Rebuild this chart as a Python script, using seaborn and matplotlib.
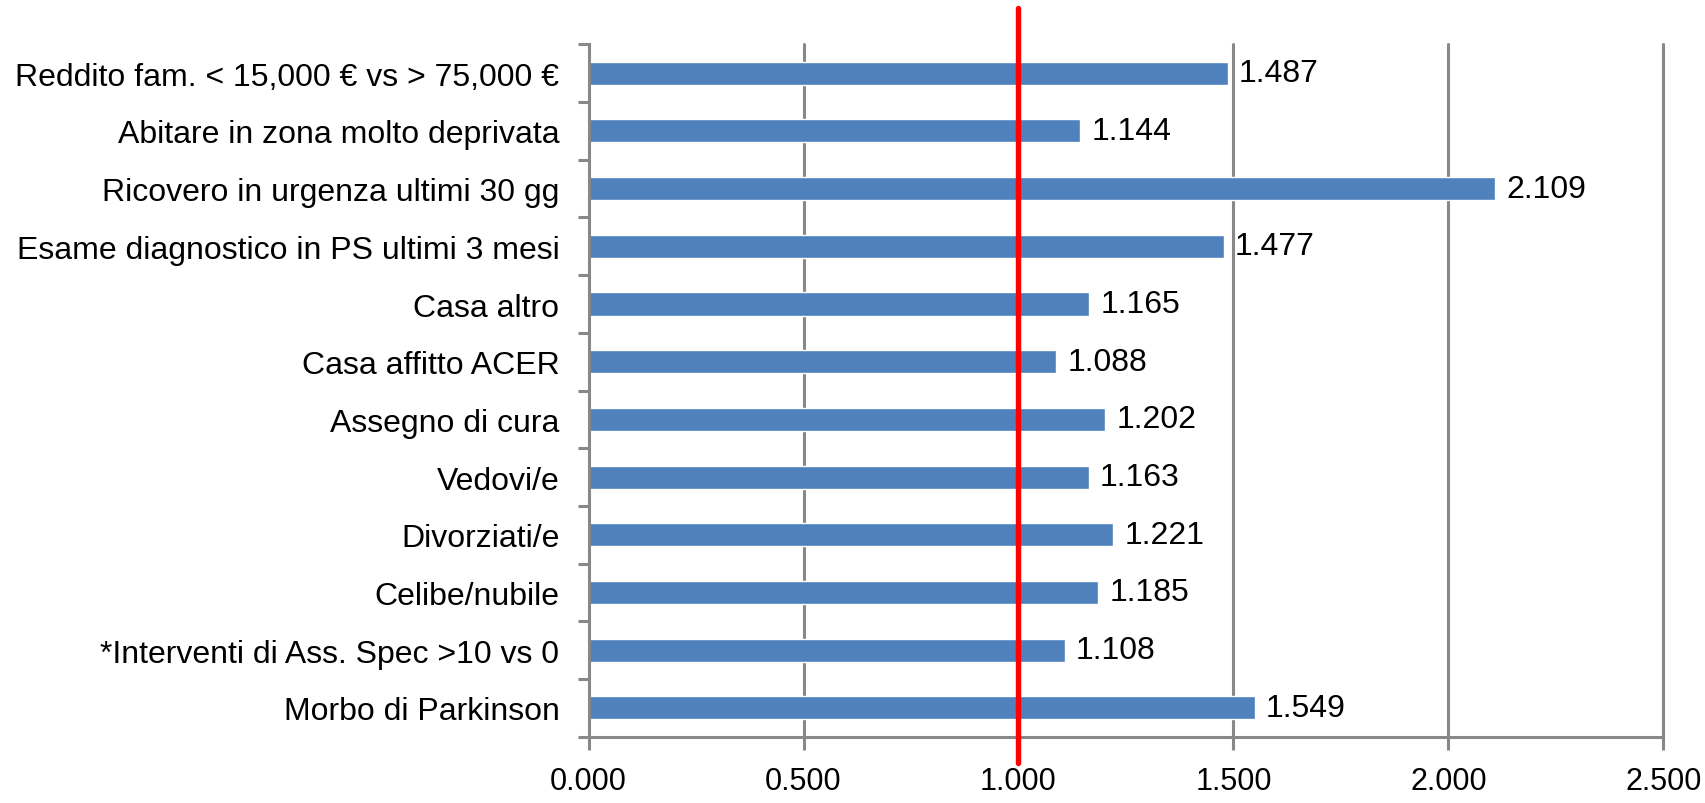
import matplotlib
matplotlib.use("Agg")
import matplotlib.pyplot as plt
import numpy as np
import pandas as pd
import seaborn as sns

categories = [
    "Reddito fam. < 15,000 € vs > 75,000 €",
    "Abitare in zona molto deprivata",
    "Ricovero in urgenza ultimi 30 gg",
    "Esame diagnostico in PS ultimi 3 mesi",
    "Casa altro",
    "Casa affitto ACER",
    "Assegno di cura",
    "Vedovi/e",
    "Divorziati/e",
    "Celibe/nubile",
    "*Interventi di Ass. Spec >10 vs 0",
    "Morbo di Parkinson",
]
values = [1.487, 1.144, 2.109, 1.477, 1.165, 1.088, 1.202, 1.163, 1.221, 1.185, 1.108, 1.549]
x_ticks = [0.0, 0.5, 1.0, 1.5, 2.0, 2.5]
reference_value = 1.0

sns.set_style("white", {"xtick.bottom": True, "ytick.left": True})
plt.rcParams["font.family"] = ["Liberation Sans", "DejaVu Sans"]

df = pd.DataFrame({"categoria": categories, "valore": values})

fig = plt.figure(figsize=(17.06, 8.04), dpi=100)
ax = fig.add_axes([0.345, 0.0825, 0.630, 0.861])

grid_color = "#888888"
for xv in x_ticks[1:]:
    ax.axvline(xv, color=grid_color, lw=2.2, zorder=0, clip_on=False)

sns.barplot(data=df, x="valore", y="categoria", orient="h", color="#4F81BD",
            saturation=1, width=0.4, ax=ax, zorder=2)

ax.bar_label(ax.containers[0], labels=[f"{v:.3f}" for v in values],
             padding=8, fontsize=23, color="black")

ax.axvline(reference_value, ymin=-0.038, ymax=1.053, color="#FF0000", lw=3.9,
           zorder=5, clip_on=False)

ax.set_xlim(0, 2.5)
ax.set_ylim(len(categories) - 0.5, -0.5)
ax.set_xticks(x_ticks)
ax.set_xticklabels([f"{t:.3f}" for t in x_ticks], fontsize=22, color="black")
ax.set_yticks(range(len(categories)))
ax.set_yticklabels(categories, fontsize=23, color="black")
ax.set_yticks(np.arange(-0.5, len(categories)), minor=True)
ax.set_xlabel("")
ax.set_ylabel("")

for side in ["top", "right"]:
    ax.spines[side].set_visible(False)
for side in ["left", "bottom"]:
    ax.spines[side].set_color(grid_color)
    ax.spines[side].set_linewidth(2.2)

ax.tick_params(axis="y", which="major", left=False, length=0, pad=21)
ax.tick_params(axis="y", which="minor", left=True, length=8, width=2.2,
               color=grid_color, direction="out")
ax.tick_params(axis="x", which="major", bottom=True, length=9, width=2.2,
               color=grid_color, direction="out", pad=12)

fig.savefig("out.png", dpi=100)
